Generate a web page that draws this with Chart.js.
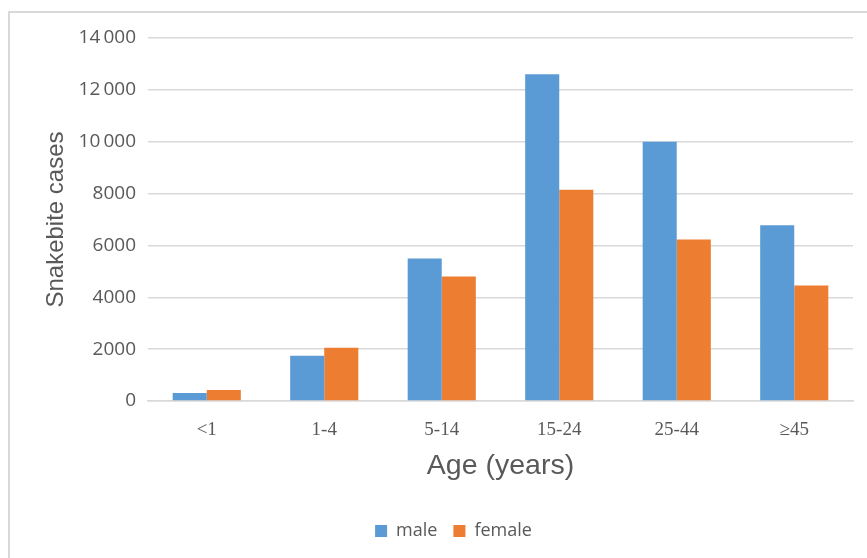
<!DOCTYPE html>
<html>
<head>
<meta charset="utf-8">
<title>Snakebite cases by age</title>
<script src="https://cdn.jsdelivr.net/npm/chart.js@4/dist/chart.umd.min.js"></script>
<style>
    html, body {
        margin: 0;
        padding: 0;
        background: #ffffff;
        overflow: hidden;
    }
    .chart-wrap {
        position: relative;
        width: 867px;
        height: 558px;
    }
    .chart-frame {
        position: absolute;
        left: 8px;
        top: 11px;
        right: -4px;
        bottom: -4px;
        border: 2px solid #d9d9d9;
        pointer-events: none;
    }
</style>
</head>
<body>
<div class="chart-wrap">
    <canvas id="snakebiteChart" width="867" height="558"></canvas>
    <div class="chart-frame"></div>
</div>
<script>
// Age groups and case counts
const ageGroups = ['<1', '1-4', '5-14', '15-24', '25-44', '\u226545'];
const maleCases = [310, 1750, 5500, 12600, 10000, 6780];
const femaleCases = [420, 2050, 4800, 8150, 6230, 4450];
const yTicks = [0, 2000, 4000, 6000, 8000, 10000, 12000, 14000];

const textColor = '#595959';
const gridColor = '#d9d9d9';

// Excel-style thousands: a thin gap only from five digits up
function formatTick(value) {
    if (value >= 10000) {
        const s = String(value);
        return s.slice(0, s.length - 3) + '\u2009' + s.slice(-3);
    }
    return String(value);
}

// Nudge the legend a little to the right of the canvas centre
const legendShift = {
    id: 'legendShift',
    afterLayout(chart) {
        const legend = chart.legend;
        if (!legend) {
            return;
        }
        legend.left += 27;
        legend.right += 27;
    }
};

function createChart() {
    const ctx = document.getElementById('snakebiteChart').getContext('2d');
    return new Chart(ctx, {
        type: 'bar',
        data: {
            labels: ageGroups,
            datasets: [{
                label: 'male',
                data: maleCases,
                backgroundColor: '#5b9bd5'
            }, {
                label: 'female',
                data: femaleCases,
                backgroundColor: '#ed7d31'
            }]
        },
        plugins: [legendShift],
        options: {
            responsive: false,
            animation: false,
            layout: {
                padding: {top: 38, right: 14, bottom: 8, left: 0}
            },
            datasets: {
                bar: {
                    categoryPercentage: 0.58,
                    barPercentage: 1.0
                }
            },
            plugins: {
                legend: {
                    position: 'bottom',
                    labels: {
                        boxWidth: 12,
                        boxHeight: 12,
                        padding: 16,
                        color: textColor,
                        font: {family: '"Open Sans", sans-serif', size: 18}
                    }
                },
                tooltip: {enabled: false}
            },
            scales: {
                x: {
                    grid: {display: false, drawTicks: false},
                    border: {color: gridColor, width: 1.5},
                    ticks: {
                        padding: 18,
                        color: textColor,
                        font: {family: '"Liberation Serif", serif', size: 19}
                    },
                    title: {
                        display: true,
                        text: 'Age (years)',
                        color: textColor,
                        font: {family: '"Liberation Sans", Arial, sans-serif', size: 28.5},
                        padding: {top: 6, bottom: 23}
                    },
                    afterFit: function(scale) {
                        scale.height = 105;
                    }
                },
                y: {
                    min: 0,
                    max: 14000,
                    grid: {color: gridColor, lineWidth: 1.5, drawTicks: false},
                    border: {display: false},
                    afterBuildTicks: function(scale) {
                        scale.ticks = yTicks.map(v => ({value: v}));
                    },
                    ticks: {
                        padding: 12,
                        color: textColor,
                        font: {family: '"Open Sans", sans-serif', size: 19},
                        callback: function(value) {
                            return formatTick(value);
                        }
                    },
                    title: {
                        display: true,
                        text: 'Snakebite cases',
                        color: textColor,
                        font: {family: '"Liberation Sans", Arial, sans-serif', size: 24},
                        padding: {top: 42, bottom: 0}
                    },
                    afterFit: function(scale) {
                        scale.width = 148;
                    }
                }
            }
        }
    });
}

createChart();
</script>
</body>
</html>
